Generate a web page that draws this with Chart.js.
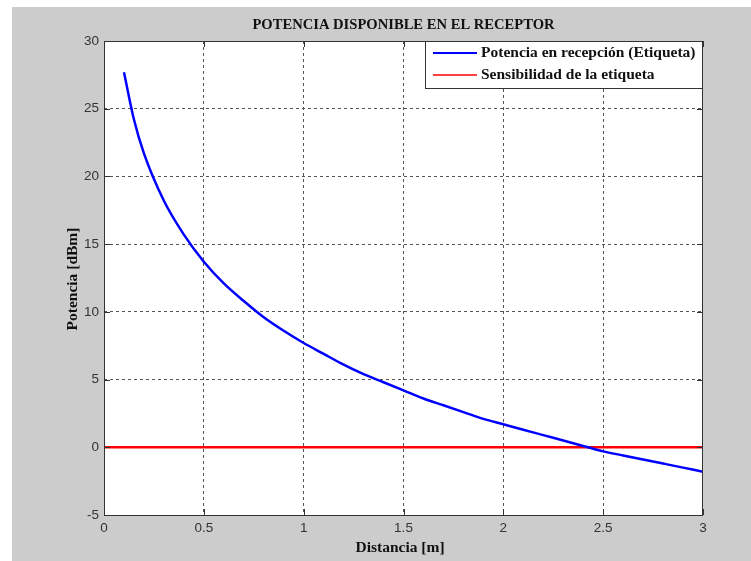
<!DOCTYPE html>
<html>
<head>
<meta charset="utf-8">
<script src="https://cdn.jsdelivr.net/npm/chart.js@4/dist/chart.umd.min.js"></script>
<style>
  html, body { margin: 0; padding: 0; background: #fff; }
  #wrap { width: 751px; height: 561px; }
</style>
</head>
<body>
<div id="wrap"><canvas id="chart" width="751" height="561"></canvas></div>
<script>
// data
const distancia = [0.1, 0.15, 0.2, 0.3, 0.4, 0.5, 0.6, 0.7, 0.8, 0.9, 1.0,
  1.1, 1.2, 1.3, 1.4, 1.5, 1.6, 1.7, 1.8, 1.9, 2.0,
  2.1, 2.2, 2.3, 2.4, 2.5, 2.6, 2.7, 2.8, 2.9, 3.0];
const potencia = [27.7, 24.2, 21.7, 18.2, 15.7, 13.7, 12.1, 10.8, 9.6, 8.6, 7.7,
  6.9, 6.1, 5.4, 4.8, 4.2, 3.6, 3.1, 2.6, 2.1, 1.7,
  1.3, 0.9, 0.5, 0.1, -0.3, -0.6, -0.9, -1.2, -1.5, -1.8];
const sensDist = [0, 3];
const sensValor = [0, 0];
const seriesLabels = ['Potencia en recepción (Etiqueta)', 'Sensibilidad de la etiqueta'];
const xTicks = [0, 0.5, 1, 1.5, 2, 2.5, 3];
const yTicks = [-5, 0, 5, 10, 15, 20, 25, 30];

const serif = '"Liberation Serif", "DejaVu Serif", serif';
const sans = '"Liberation Sans", Arial, sans-serif';

// figure background, frame, inner ticks, title, axis labels and legend
const matlabLook = {
  id: 'matlabLook',
  beforeDraw(chart) {
    const c = chart.ctx;
    c.save();
    c.fillStyle = '#ffffff';
    c.fillRect(0, 0, chart.width, chart.height);
    c.fillStyle = '#cccccc';
    c.fillRect(12, 7, chart.width - 12, chart.height - 7);
    const a = chart.chartArea;
    c.fillStyle = '#ffffff';
    c.fillRect(a.left, a.top, a.right - a.left, a.bottom - a.top);
    c.restore();
  },
  afterDraw(chart) {
    const c = chart.ctx;
    const a = chart.chartArea;
    const xs = chart.scales.x, ys = chart.scales.y;
    c.save();
    c.strokeStyle = '#333333';
    c.lineWidth = 1;
    // small solid ticks pointing inwards, on all four sides
    c.beginPath();
    xTicks.forEach(v => {
      const px = Math.round(xs.getPixelForValue(v)) + 0.5;
      c.moveTo(px, a.bottom); c.lineTo(px, a.bottom - 6);
      c.moveTo(px, a.top); c.lineTo(px, a.top + 6);
    });
    yTicks.forEach(v => {
      const py = Math.round(ys.getPixelForValue(v)) + 0.5;
      c.moveTo(a.left, py); c.lineTo(a.left + 6, py);
      c.moveTo(a.right, py); c.lineTo(a.right - 6, py);
    });
    c.stroke();
    c.strokeRect(a.left + 0.5, a.top + 0.5, a.right - a.left - 1, a.bottom - a.top);

    c.fillStyle = '#111111';
    c.textAlign = 'center';
    c.textBaseline = 'middle';
    c.font = 'bold 14.6px ' + serif;
    c.fillText('POTENCIA DISPONIBLE EN EL RECEPTOR', (a.left + a.right) / 2, 25);
    c.font = 'bold 15.5px ' + serif;
    c.fillText('Distancia [m]', 400, 548);
    c.save();
    c.translate(73, 279);
    c.rotate(-Math.PI / 2);
    c.fillText('Potencia [dBm]', 0, 0);
    c.restore();

    // legend box
    const lx = 425, ly = a.top, lw = a.right - lx, lh = 47;
    c.fillStyle = '#ffffff';
    c.fillRect(lx, ly, lw, lh);
    c.strokeStyle = '#333333';
    c.strokeRect(lx + 0.5, ly + 0.5, lw - 1, lh);
    c.textAlign = 'left';
    c.font = 'bold 15.5px ' + serif;
    chart.data.datasets.forEach((ds, i) => {
      const yy = ly + 12 + i * 22;
      c.strokeStyle = ds.borderColor;
      c.lineWidth = i === 0 ? 2 : 1.5;
      c.beginPath();
      c.moveTo(433, yy);
      c.lineTo(477, yy);
      c.stroke();
      c.fillStyle = '#111111';
      c.fillText(ds.label, 481, yy);
    });
    c.restore();
  }
};

const gridColor = (min, max) => ctx =>
  (ctx.tick && (ctx.tick.value === min || ctx.tick.value === max)) ? 'rgba(0,0,0,0)' : '#555555';

new Chart(document.getElementById('chart'), {
  type: 'line',
  data: {
    datasets: [{
      label: seriesLabels[0],
      data: distancia.map((d, i) => ({ x: d, y: potencia[i] })),
      borderColor: '#0000ff',
      borderWidth: 2.5,
      pointRadius: 0,
      cubicInterpolationMode: 'monotone'
    }, {
      label: seriesLabels[1],
      data: sensDist.map((d, i) => ({ x: d, y: sensValor[i] })),
      borderColor: '#ff0000',
      borderWidth: 2.5,
      pointRadius: 0
    }]
  },
  options: {
    responsive: false,
    animation: false,
    layout: { padding: { left: 64, right: 48, top: 41, bottom: 16 } },
    plugins: { legend: { display: false }, title: { display: false }, tooltip: { enabled: false } },
    scales: {
      x: {
        type: 'linear',
        min: 0, max: 3,
        afterFit: s => { s.height = 30; },
        afterBuildTicks: s => { s.ticks = xTicks.map(v => ({ value: v })); },
        grid: { color: gridColor(0, 3), drawTicks: false },
        border: { display: false, dash: [3, 3] },
        ticks: {
          color: '#333333',
          font: { family: sans, size: 13.5 },
          padding: 5,
          maxRotation: 0,
          callback: v => String(v)
        }
      },
      y: {
        min: -5, max: 30,
        afterFit: s => { s.width = 40; },
        afterBuildTicks: s => { s.ticks = yTicks.map(v => ({ value: v })); },
        grid: { color: gridColor(-5, 30), drawTicks: false },
        border: { display: false, dash: [3, 3] },
        ticks: {
          color: '#333333',
          font: { family: sans, size: 13.5 },
          padding: 5,
          callback: v => String(v)
        }
      }
    }
  },
  plugins: [matlabLook]
});
</script>
</body>
</html>
